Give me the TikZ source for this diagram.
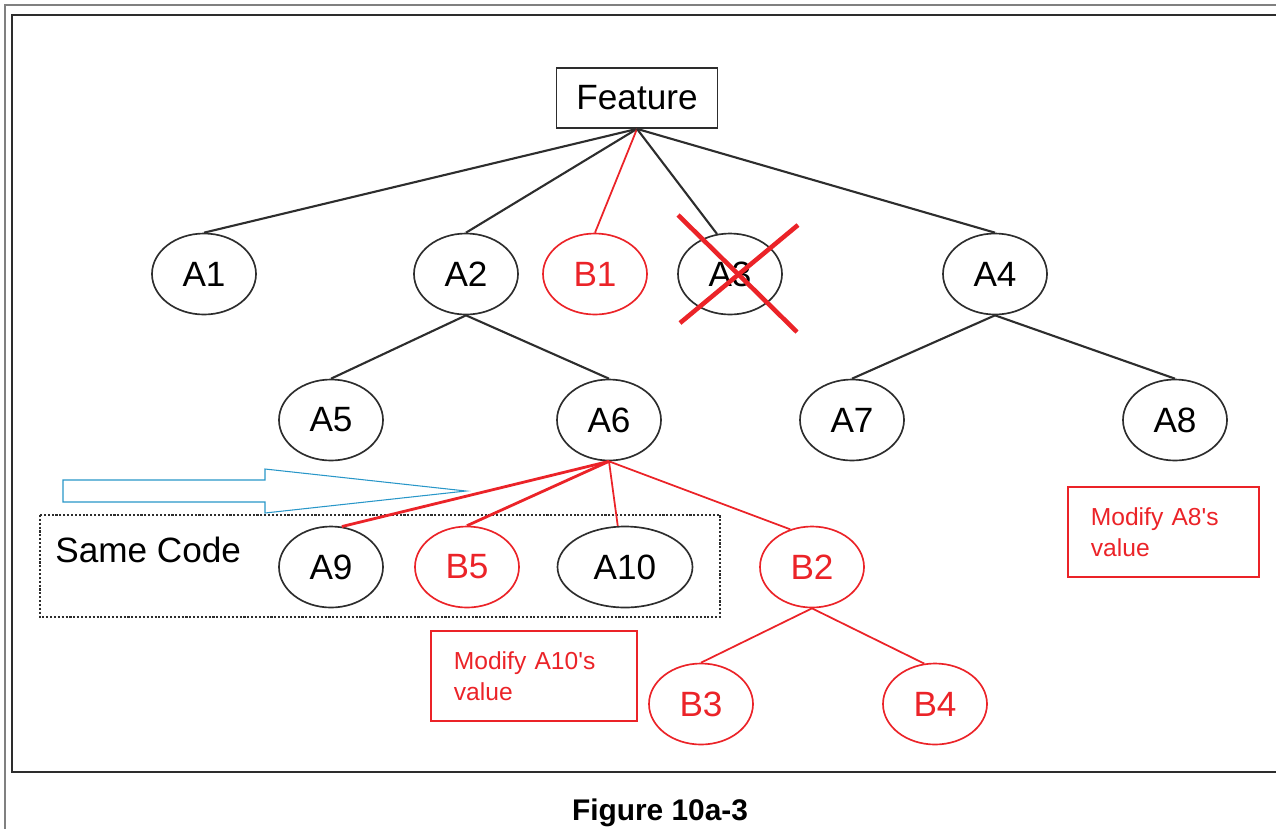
\documentclass[tikz,border=0pt]{standalone}
\usepackage{fontspec}
\setmainfont{Liberation Sans}
\usetikzlibrary{shapes.geometric, positioning, calc}
\definecolor{markRed}{RGB}{235, 35, 40}
\definecolor{lineGray}{RGB}{45, 45, 45}
\definecolor{hintBlue}{RGB}{40, 150, 200}

\begin{document}
\begin{tikzpicture}[
        x=0.2mm, y=-0.2mm,
        font=\fontsize{20}{24}\selectfont,
        root/.style={rectangle, draw=lineGray, line width=1pt, minimum width=3.22cm, minimum height=1.2cm},
        leaf/.style={ellipse, draw=lineGray, line width=0.95pt, minimum width=2.08cm, minimum height=1.62cm, inner sep=0pt},
        newleaf/.style={leaf, draw=markRed, text=markRed},
        note/.style={rectangle, draw=markRed, line width=1pt, text=markRed, anchor=north west, align=left, inner xsep=0.46cm, inner ysep=0pt, font=\fontsize{14}{17.5}\selectfont},
        link/.style={draw=lineGray, line width=1.2pt},
        newlink/.style={draw=markRed, line width=1pt},
        cross/.style={draw=markRed, line width=2.6pt},
        samebox/.style={draw=lineGray, line width=1.2pt, densely dotted},
        frame/.style={draw=lineGray, line width=1.5pt}
    ]
        \useasboundingbox (0,0) rectangle (1276,829);
        % frames
        \draw[gray, line width=0.6pt] (1276,5) -- (5,5) -- (5,829);
        \draw[frame] (1276,15) -- (12,15) -- (12,772) -- (1276,772);

        \node[root] (feat) at (637,98) {Feature};

        \node[leaf] (a1) at (204,274) {A1};
        \node[leaf] (a2) at (466,274) {A2};
        \node[newleaf] (b1) at (595,274) {B1};
        \node[leaf] (a3) at (730,274) {A3};
        \node[leaf] (a4) at (995,274) {A4};

        \node[leaf] (a5) at (331,420) {A5};
        \node[leaf] (a6) at (609,420) {A6};
        \node[leaf] (a7) at (852,420) {A7};
        \node[leaf] (a8) at (1175,420) {A8};

        \node[leaf] (a9) at (331,567) {A9};
        \node[newleaf] (b5) at (467,567) {B5};
        \node[leaf, minimum width=2.7cm] (a10) at (625,567) {A10};
        \node[newleaf] (b2) at (812,567) {B2};

        \node[newleaf] (b3) at (701,704) {B3};
        \node[newleaf] (b4) at (935,704) {B4};

        % same code group
        \draw[samebox] (40,515) rectangle (720,617);
        \node[anchor=west, inner sep=0pt] (same) at (55,550) {Same Code};
        \draw[hintBlue, line width=0.6pt] (63,480) -- (265,480) -- (265,469) -- (466,491) -- (265,513) -- (265,502) -- (63,502) -- cycle;

        \node[note, text width=3.2cm, minimum height=1.8cm] (noteten) at (430,630) {Modify A10\textquotesingle s\\value};
        \node[note, text width=2.9cm, minimum height=1.8cm] (noteeight) at (1067,486) {Modify A8\textquotesingle s\\value};

        \draw[link] (feat.south) -- (a1.north);
        \draw[link] (feat.south) -- (a2.north);
        \draw[newlink] (feat.south) -- (b1.north);
        \draw[link] (feat.south) -- (a3.108);
        \draw[link] (feat.south) -- (a4.north);

        \draw[link] (a2.south) -- (a5.north);
        \draw[link] (a2.south) -- (a6.north);
        \draw[link] (a4.south) -- (a7.north);
        \draw[link] (a4.south) -- (a8.north);

        \draw[newlink, line width=1.6pt] (a6.south) -- (a9.75);
        \draw[newlink, line width=1.6pt] (a6.south) -- (b5.north);
        \draw[newlink] (a6.south) -- (a10.100);
        \draw[newlink] (a6.south) -- (b2.120);

        \draw[newlink] (b2.south) -- (b3.north);
        \draw[newlink] (b2.south) -- (b4.105);

        % A3 is removed
        \draw[cross] ($(a3)+(-52,-59)$) -- ($(a3)+(67,58)$);
        \draw[cross] ($(a3)+(-50,49)$) -- ($(a3)+(68,-49)$);

        \node[font=\fontsize{17}{20}\bfseries] (caption) at (660,813) {Figure 10a-3};
    \end{tikzpicture}
\end{document}
